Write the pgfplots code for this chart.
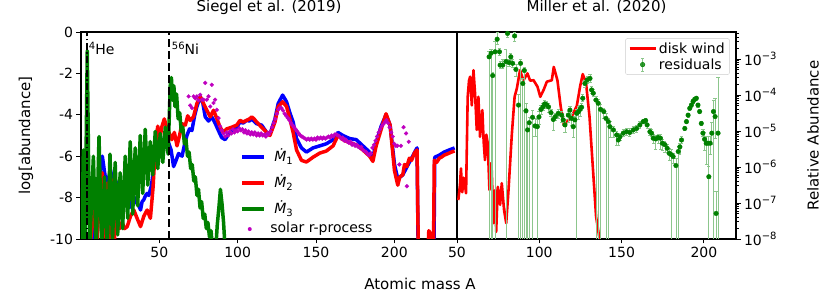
\documentclass[border=0pt]{standalone}
\usepackage{fontspec}
\setmainfont{DejaVu Sans}
\usepackage{pgfplots}
\pgfplotsset{compat=1.18}
\definecolor{mplgreen}{rgb}{0,0.5,0}
\definecolor{mplmag}{rgb}{0.75,0,0.75}
\definecolor{legedge}{gray}{0.8}
\newcommand{\sups}[1]{\raisebox{0.42em}{\fontsize{10}{12}\selectfont #1}}
\newcommand{\subs}[1]{\raisebox{-0.25em}{\fontsize{10}{12}\selectfont #1}}
\pgfplotsset{
  mybase/.style={
    scale only axis, height=207pt,
    tick align=outside,
    major tick length=4.5pt,
    minor tick length=2.5pt,
    every tick/.style={black, line width=0.9pt},
    axis line style={line width=1.1pt},
    tick label style={font=\fontsize{14}{16}\selectfont},
    /pgf/number format/assume math mode=true,
    label style={font=\fontsize{15}{18}\selectfont},
    title style={font=\fontsize{15}{18}\selectfont, at={(axis description cs:0.5,1)}, anchor=base, yshift=14.5pt},
    xtick pos=bottom,
  }
}
\begin{document}
\begin{tikzpicture}
\path[use as bounding box] (0,0) rectangle (831pt,302pt);
% ---------------- left panel ----------------
\begin{axis}[mybase, at={(81pt,63pt)}, anchor=south west, width=376pt,
  xmin=0, xmax=240, ymin=-10, ymax=0,
  xtick={50,100,150,200},
  ytick={-10,-8,-6,-4,-2,0}, yticklabels={-10,-8,-6,-4,-2,0},
  ytick pos=left,
  title={Siegel et al. (2019)},
  ylabel={log[abundance]},
  ylabel style={at={(axis description cs:-0.1463,0.5)}, anchor=center},
  legend style={at={(0.423,0.435)}, anchor=north west, draw=none, fill=none, inner sep=0pt,
    font=\fontsize{14}{16}\selectfont, row sep=10pt, column sep=8pt,
    nodes={inner sep=0pt, text height=12pt, text depth=4pt}},
  legend cell align=left,
]
\addplot[blue, line width=3.5pt, line join=round, forget plot] coordinates {
(7,-10.5) (8,-8.0) (9.3,-7.15) (10.3,-7.6) (11.4,-7.5) (12.5,-6.6) (13.6,-6.0) (15.1,-6.8) (16.8,-7.6) (17.8,-7.0) (18.9,-6.67) (20,-7.2) (21,-7.0) (22.7,-7.3) (24.8,-7.6) (26,-7.9) (27.4,-8.28) (28.5,-8.0) (29.5,-8.1) (30.5,-8.5) (31.6,-8.4) (32.7,-8.0) (33.7,-7.95) (34.8,-8.2) (35.8,-8.28) (37,-8.4) (38,-8.6) (39,-8.2) (40.1,-8.1) (41.2,-7.9) (42.2,-7.8) (43.3,-7.9) (44.3,-7.6) (45,-7.4) (46.5,-6.5) (48,-5.6) (50,-5.0) (52,-5.3) (54,-5.2) (56,-5.37) (57.5,-5.7) (59.1,-6.5) (60.7,-6.2) (62.3,-5.87) (64.5,-6.0) (65.9,-5.5) (67.6,-5.0) (69.3,-4.68) (70.8,-4.76) (72.5,-4.05) (74,-3.6) (76.1,-3.12) (77.8,-3.45) (79.3,-4.1) (81.4,-4.3) (83.5,-4.1) (85.6,-4.4) (87.7,-4.76) (89.8,-5.1) (92,-5.2) (94.1,-4.95) (96.2,-4.76) (99.4,-4.6) (101.5,-4.35) (103.5,-4.4) (105.7,-4.27) (107.5,-4.3) (109,-4.2) (112.1,-4.43) (115.3,-4.5) (118.5,-4.85) (120.6,-4.93) (123.8,-4.2) (125.9,-3.45) (128.7,-3.05) (131.2,-3.37) (133.3,-3.9) (135.4,-4.35) (137.6,-5.15) (140.7,-5.6) (143.9,-5.8) (148.1,-5.6) (152.4,-5.5) (156.6,-5.4) (160.9,-5.2) (164,-4.85) (167.2,-5.0) (171.5,-5.15) (175.7,-5.2) (179.9,-5.5) (184.2,-5.8) (186.3,-6.05) (188.4,-5.35) (191.6,-4.55) (194.7,-4.0) (197.3,-4.5) (200.1,-6.4) (202.2,-7.1) (205.4,-6.9) (208.5,-6.45) (211,-6.1) (213,-5.8) (214.5,-5.6) (215.2,-10.5) (225.3,-10.5) (225.8,-6.05) (228.7,-5.95) (231.8,-5.8) (235,-5.7) (238.5,-5.6)};
\addplot[red, line width=3.5pt, line join=round, forget plot] coordinates {
(6,-10.5) (7,-9.0) (8.3,-7.5) (9.2,-9.5) (10,-10.5) (11.5,-8.3) (12.5,-7.2) (13.6,-6.8) (14.4,-8.5) (15.1,-9.9) (16,-8.0) (16.8,-7.3) (17.7,-9.0) (18.5,-10.5) (19.3,-8.5) (20,-7.15) (20.6,-9.0) (21.3,-10.5) (22,-8.5) (22.7,-7.5) (23.7,-9.0) (24.8,-9.5) (26.3,-9.2) (27.8,-9.5) (29.5,-9.4) (31.6,-8.9) (33.7,-8.6) (35.8,-9.0) (38,-9.4) (40.1,-8.9) (42.2,-8.6) (44.3,-9.0) (46,-7.5) (47.5,-5.4) (49,-4.55) (50.2,-5.2) (51.7,-4.55) (53.2,-4.2) (54.9,-4.68) (56.6,-4.93) (58,-5.2) (59.6,-4.85) (61.3,-5.5) (62.9,-5.0) (64.4,-4.43) (66.6,-4.5) (68.1,-4.05) (69.7,-4.27) (71.8,-4.1) (74,-3.45) (76.1,-3.12) (78.2,-3.45) (80.3,-3.78) (82.5,-4.1) (84.6,-3.78) (86.7,-4.18) (88.8,-4.6) (90.9,-4.85) (93,-4.68) (96.2,-4.6) (99.4,-4.5) (101.5,-4.27) (103.5,-4.35) (105.7,-4.27) (107.5,-4.2) (109,-4.1) (110.5,-4.2) (112.1,-4.35) (115.3,-4.6) (118.5,-4.85) (120.6,-5.0) (123.8,-4.35) (125.9,-3.6) (128.7,-3.37) (131.2,-3.6) (133.3,-4.2) (135.4,-4.85) (137.6,-5.7) (140.7,-6.2) (143.9,-6.28) (148.1,-6.05) (152.4,-5.85) (156.6,-5.75) (160.9,-5.5) (164,-5.0) (167.2,-5.2) (171.5,-5.35) (175.7,-5.45) (179.9,-5.7) (184.2,-6.0) (186.3,-6.25) (188.4,-5.5) (191.6,-4.7) (194.7,-3.95) (197.3,-4.5) (200.1,-6.7) (202.2,-7.4) (203.5,-7.0) (205.4,-6.9) (206.5,-6.4) (208,-6.5) (209.6,-6.1) (211,-6.2) (212.8,-5.85) (214.5,-5.7) (215.3,-10.5) (221.5,-10.5) (222,-9.6) (223.5,-9.8) (224,-10.5) (225,-10.5) (225.5,-6.2) (227,-6.3) (228.7,-6.1) (230,-6.05) (231.8,-5.95) (233.5,-5.9) (235,-5.85) (236.5,-5.8) (238.5,-5.75)};
\addplot[mplgreen, line width=3.5pt, line join=round, forget plot] coordinates {
(0.5,-10.5) (1.5,-5.7) (2.5,-10.5) (4,-0.9) (5.5,-10.5) (7.9,-6.0) (9.7,-10.5) (11.5,-5.05) (13.2,-10.5) (15,-7.0) (16.8,-10.5) (18.5,-5.9) (20.1,-10.2) (21.8,-6.3) (23.4,-9.8) (25,-6.8) (26.6,-9.5) (28.2,-6.0) (29.8,-9.0) (31.4,-5.3) (33,-8.8) (34.6,-5.6) (36.2,-8.4) (37.8,-5.0) (39.4,-7.8) (41,-4.7) (42.6,-7.4) (44.2,-5.3) (45.8,-6.9) (47.4,-4.8) (49,-6.6) (50.6,-4.9) (52.2,-6.3) (53.8,-4.6) (55.6,-5.9) (57,-2.5) (57.7,-2.2) (58.5,-3.3) (59.3,-2.6) (60,-3.6) (61,-3.0) (62,-4.2) (63,-3.9) (64,-4.8) (65,-4.6) (66,-5.4) (67,-5.2) (68,-6.0) (69,-5.8) (70,-6.6) (71,-6.4) (72,-7.2) (73,-7.0) (74,-7.9) (75,-7.6) (76,-8.5) (77,-8.2) (78,-9.0) (79,-8.8) (80,-9.5) (81,-9.2) (82,-9.9) (83,-9.6) (84,-10.5) (86,-10.5) (87,-9.3) (88,-8.5) (89,-7.6) (90,-8.3) (91,-9.2) (92,-10.5)};
\addplot[only marks, mark=*, mark size=1.9pt, mplmag, forget plot] coordinates {
(68.7,-3.11) (69.7,-3.55) (70.8,-3.67) (71.9,-3.11) (73.0,-3.2) (74.0,-3.11) (75.0,-3.3) (76.1,-3.03) (77.2,-3.27) (78.2,-3.27) (79.3,-2.46) (80.3,-3.27) (81.4,-3.11) (82.5,-3.6) (83.5,-2.55) (84.6,-3.43) (85.6,-3.27) (86.7,-3.76) (87.8,-4.16) (88.8,-4.56) (89.8,-4.75) (91,-4.9) (92,-5.05) (93,-4.85) (94,-5.0) (95,-4.8) (96,-4.9) (97,-4.7) (98,-4.85) (99,-4.75) (100,-4.8) (101,-4.65) (102,-4.75) (103,-4.7) (104,-4.85) (105,-4.75) (106,-4.9) (107,-4.8) (108,-4.95) (109,-4.85) (110,-4.95) (111,-4.85) (112,-5.0) (113,-4.9) (114,-5.0) (115,-4.9) (116,-5.0) (117,-4.95) (118,-5.05) (119,-4.9) (120,-4.95) (121,-4.8) (122,-4.6) (123,-4.4) (124,-4.2) (125,-3.95) (126,-3.75) (127,-3.65) (128,-3.68) (129,-3.8) (130,-3.95) (131,-4.05) (132,-4.15) (133,-4.25) (134,-4.4) (135,-4.5) (136,-4.6) (137,-4.7) (138,-4.8) (139,-4.9) (140,-5.0) (141,-5.05) (142,-5.1) (143,-5.15) (144,-5.2) (145,-5.15) (146,-5.2) (147,-5.15) (148,-5.2) (149,-5.15) (150,-5.2) (151,-5.1) (152,-5.15) (153,-5.1) (154,-5.15) (155,-5.1) (156,-5.15) (157,-5.1) (158,-5.05) (159,-5.1) (160,-5.0) (161,-5.05) (162,-4.95) (163,-4.95) (164,-5.0) (165,-5.05) (166,-5.15) (167,-5.1) (168,-5.25) (169,-5.2) (170,-5.3) (171,-5.35) (172,-5.3) (173,-5.45) (174,-5.4) (175,-5.5) (176,-5.45) (177,-5.55) (178,-5.6) (179,-5.55) (180,-5.7) (181,-5.75) (182,-5.8) (183,-5.9) (184,-5.95) (185,-5.86) (186,-5.6) (187,-5.45) (188,-5.25) (189,-5.05) (190,-4.85) (191,-4.7) (192,-4.55) (193,-4.45) (194,-4.35) (195,-4.25) (196,-4.4) (197,-4.6) (198,-4.85) (199,-5.05) (200,-5.4) (201,-5.5) (202,-5.5) (203.2,-6.4) (204.2,-5.5) (205.9,-4.6) (207.5,-4.9) (208,-7.45) (209.2,-5.3)};
\addplot[black, line width=2.2pt, dash pattern=on 7pt off 2.5pt on 1.5pt off 2.5pt, forget plot] coordinates {(4,-10) (4,0)};
\addplot[black, line width=2.2pt, dash pattern=on 8pt off 4pt, forget plot] coordinates {(56,-10) (56,0)};
\node[anchor=base west, font=\fontsize{14}{16}\selectfont, inner sep=0pt, xshift=1.5pt] at (axis cs:4,-1.11) {\sups{4}He};
\node[anchor=base west, font=\fontsize{14}{16}\selectfont, inner sep=0pt, xshift=3pt] at (axis cs:56,-1.11) {\sups{56}Ni};
\draw[line width=2.4pt] (rel axis cs:1,0) -- (rel axis cs:1,1);
\addlegendimage{legend image code/.code={\draw[blue, line width=4pt] (0pt,0pt) -- (22pt,0pt);}}
\addlegendentry{\textit{Ṁ}\subs{1}}
\addlegendimage{legend image code/.code={\draw[red, line width=4pt] (0pt,0pt) -- (22pt,0pt);}}
\addlegendentry{\textit{Ṁ}\subs{2}}
\addlegendimage{legend image code/.code={\draw[mplgreen, line width=4pt] (0pt,0pt) -- (22pt,0pt);}}
\addlegendentry{\textit{Ṁ}\subs{3}}
\end{axis}
% legend entry for the solar r-process points (separate, for exact spacing)
\begin{axis}[at={(81pt,63pt)}, anchor=south west, scale only axis, width=376pt, height=207pt,
  hide axis, xmin=0, xmax=1, ymin=0, ymax=1,
  legend style={at={(0.423,0.048)}, anchor=west, draw=none, fill=none, inner sep=0pt,
    font=\fontsize{14}{16}\selectfont, column sep=8pt,
    nodes={inner sep=0pt, text height=10pt, text depth=3pt}},
  legend cell align=left,
]
\addlegendimage{legend image code/.code={\path[draw=none, fill=none] (0pt,-1pt) rectangle (22pt,1pt); \fill[mplmag, draw=none] (9.5pt,0pt) circle (2pt);}}
\addlegendentry{solar r-process}
\end{axis}
% ---------------- right panel ----------------
\begin{axis}[mybase, at={(457pt,63pt)}, anchor=south west, width=279pt,
  xmin=50, xmax=219.5, ymin=-8, ymax=-2.25,
  xtick={50,100,150,200},
  ytick={-8,-7,-6,-5,-4,-3},
  yticklabels={10\sups{−8},10\sups{−7},10\sups{−6},10\sups{−5},10\sups{−4},10\sups{−3}},
  minor ytick={-7.699,-7.523,-7.398,-7.301,-7.222,-7.155,-7.097,-7.046,
    -6.699,-6.523,-6.398,-6.301,-6.222,-6.155,-6.097,-6.046,
    -5.699,-5.523,-5.398,-5.301,-5.222,-5.155,-5.097,-5.046,
    -4.699,-4.523,-4.398,-4.301,-4.222,-4.155,-4.097,-4.046,
    -3.699,-3.523,-3.398,-3.301,-3.222,-3.155,-3.097,-3.046,
    -2.699,-2.523,-2.398,-2.301},
  ytick pos=right, yticklabel pos=right,
  yticklabel style={anchor=west},
  title={Miller et al. (2020)},
  ylabel={Relative Abundance},
  ylabel style={at={(axis description cs:1.276,0.5)}, anchor=center},
  xlabel={Atomic mass A},
  xlabel style={at={(axis description cs:-0.1326,0)}, anchor=base, yshift=-51pt},
  legend style={at={(0.978,0.97)}, anchor=north east, draw=legedge, rounded corners=2.5pt,
    fill=white, fill opacity=0.8, text opacity=1, font=\fontsize{14}{16}\selectfont},
  legend cell align=left,
]
\addplot[red, line width=2.6pt, line join=round, forget plot] coordinates {
(50.8,-6.92) (51.8,-6.5) (52.4,-6.04) (53.2,-6.7) (54.0,-6.3) (54.5,-6.4) (55.5,-6.73) (56.5,-4.05) (57.3,-3.6) (58.0,-3.49) (59.0,-4.29) (60.0,-3.31) (61.0,-3.98) (62.0,-4.97) (63.0,-4.05) (64.0,-5.16) (65.4,-4.42) (66.2,-5.3) (67.0,-5.81) (67.8,-5.1) (68.7,-5.35) (69.7,-6.64) (70.4,-5.9) (71.1,-6.1) (72.1,-7.56) (73.2,-6.64) (73.8,-7.8) (74.8,-6.55) (76.2,-7.05) (77.2,-6.45) (78.6,-7.2) (79.9,-7.56) (81.3,-6.64) (83.3,-5.1) (85.0,-4.05) (86.4,-3.81) (88.3,-3.31) (90.3,-3.6) (92.8,-3.4) (94.4,-3.6) (96.5,-3.59) (98.9,-3.77) (100.6,-4.05) (102.6,-3.86) (104.6,-3.63) (107.6,-3.59) (108.8,-3.22) (111.0,-3.59) (113.0,-4.32) (115.0,-4.85) (116.7,-4.75) (119.7,-4.6) (122.8,-4.3) (124.8,-3.76) (126.4,-3.42) (128.4,-3.67) (130.5,-4.6) (132.5,-5.99) (134.5,-7.38) (136.6,-8.0) (138,-8.5)};
\addplot[only marks, mark=*, mark size=2.3pt, mplgreen, forget plot,
  error bars/.cd, y dir=both, y explicit,
  error bar style={mplgreen!45, line width=0.7pt},
  error mark options={rotate=90, mplgreen!45, mark size=1.6pt, line width=0.7pt}]
  table[x=A, y=L, y error plus=ep, y error minus=em, row sep=\\] {
A L ep em\\
69.5 -2.94 0.15 6\\
70.7 -2.84 0.1 6\\
71.7 -3.46 0.1 6\\
73.1 -2.80 0.3 6\\
74.4 -2.45 0.2 0.15\\
75.8 -2.80 0.1 0.1\\
76.2 -3.17 0.1 0.1\\
77.8 -3.17 0.15 0.1\\
79.7 -3.07 0.35 6\\
80.7 -2.29 0.1 0.1\\
81.6 -3.10 0.1 0.1\\
82.7 -2.94 0.1 0.1\\
83.8 -3.12 0.1 0.1\\
85.0 -2.36 0.1 0.15\\
85.8 -3.29 0.15 0.2\\
87.4 -4.28 0.3 6\\
88.6 -3.12 0.1 6\\
90.0 -3.68 0.15 6\\
90.9 -3.32 0.1 6\\
91.9 -4.44 0.2 6\\
92.9 -4.97 0.2 6\\
93.9 -4.77 0.15 6\\
95.9 -4.62 0.2 6\\
97.4 -4.86 0.2 0.3\\
98.8 -4.88 0.2 6\\
99.8 -4.61 0.15 0.2\\
101.0 -4.40 0.1 0.15\\
102.2 -4.33 0.1 0.1\\
103.2 -4.25 0.1 0.1\\
104.4 -4.27 0.1 0.1\\
105.6 -4.33 0.1 0.15\\
107.1 -4.49 0.1 0.1\\
108.5 -4.68 0.1 0.3\\
109.8 -4.60 0.1 0.1\\
111.5 -4.51 0.1 0.15\\
113.6 -4.56 0.1 0.2\\
114.5 -4.69 0.1 0.15\\
115.6 -4.83 0.15 0.2\\
117.6 -4.56 0.1 0.2\\
118.6 -4.42 0.1 0.1\\
119.6 -4.65 0.15 0.2\\
120.6 -4.88 0.2 0.3\\
121.6 -4.69 0.1 0.2\\
122.7 -4.51 0.1 6\\
123.7 -4.47 0.15 0.2\\
124.7 -4.40 0.1 0.2\\
125.7 -4.34 0.1 0.1\\
126.4 -4.09 0.1 0.1\\
127.7 -3.68 0.1 0.1\\
129.1 -3.58 0.1 0.1\\
130.8 -3.54 0.1 0.1\\
131.8 -3.86 0.1 0.1\\
132.8 -3.95 0.1 0.1\\
134.4 -4.14 0.1 6\\
135.8 -4.23 0.1 6\\
137.2 -4.40 0.15 6\\
139.2 -4.46 0.1 0.2\\
140.5 -4.65 0.15 6\\
141.9 -4.74 0.1 6\\
142.9 -4.88 0.15 0.3\\
145.0 -4.97 0.1 0.2\\
147.0 -5.11 0.1 0.3\\
148.0 -5.25 0.1 0.15\\
149.0 -5.16 0.1 0.1\\
151.0 -5.06 0.1 0.1\\
153.0 -5.02 0.1 0.1\\
155.0 -5.04 0.1 0.1\\
157.1 -4.97 0.1 0.1\\
159.1 -4.93 0.1 0.1\\
161.1 -4.83 0.1 0.1\\
163.1 -4.74 0.05 0.05\\
164.6 -4.71 0.05 0.05\\
165.5 -4.83 0.05 0.1\\
167.2 -5.02 0.1 0.1\\
168.2 -5.06 0.1 0.1\\
169.2 -5.20 0.1 0.15\\
170.8 -5.22 0.1 0.3\\
172.2 -5.18 0.1 0.15\\
173.6 -5.20 0.1 0.3\\
174.8 -5.34 0.1 0.2\\
176.3 -5.38 0.1 0.2\\
177.7 -5.48 0.1 0.1\\
178.9 -5.62 0.15 0.2\\
180.3 -5.66 0.15 6\\
181.3 -5.71 0.1 0.2\\
183.0 -5.96 0.2 6\\
184.4 -5.57 0.15 6\\
185.4 -5.44 0.1 0.2\\
186.4 -5.25 0.1 0.1\\
188.4 -4.93 0.05 0.05\\
189.4 -4.74 0.05 0.05\\
190.4 -4.56 0.05 0.05\\
191.4 -4.37 0.05 0.05\\
192.4 -4.28 0.05 0.05\\
193.4 -4.18 0.05 0.05\\
194.4 -4.12 0.05 0.05\\
195.4 -4.09 0.05 0.05\\
196.4 -4.28 0.05 0.05\\
197.4 -4.46 0.05 0.05\\
198.4 -4.79 0.05 0.05\\
199.4 -5.06 0.1 0.1\\
200.4 -5.23 0.2 0.3\\
201.4 -5.34 0.2 0.6\\
202.4 -5.34 0.2 6\\
203.0 -6.27 0.3 6\\
203.8 -5.34 0.2 0.3\\
204.8 -5.06 0.3 0.3\\
205.8 -4.46 0.3 6\\
206.8 -4.60 0.5 0.6\\
207.4 -7.29 0.6 6\\
208.6 -5.06 1.55 6\\
};
\addlegendimage{legend image code/.code={\draw[red, line width=2.6pt] (0pt,0pt) -- (26pt,0pt);}}
\addlegendentry{disk wind}
\addlegendimage{legend image code/.code={\draw[mplgreen!45, line width=0.7pt] (13pt,-6.5pt) -- (13pt,6.5pt) (11.4pt,-6.5pt) -- (14.6pt,-6.5pt) (11.4pt,6.5pt) -- (14.6pt,6.5pt); \fill[mplgreen] (13pt,0pt) circle (2.3pt);}}
\addlegendentry{residuals}
\end{axis}
\end{tikzpicture}
\end{document}
